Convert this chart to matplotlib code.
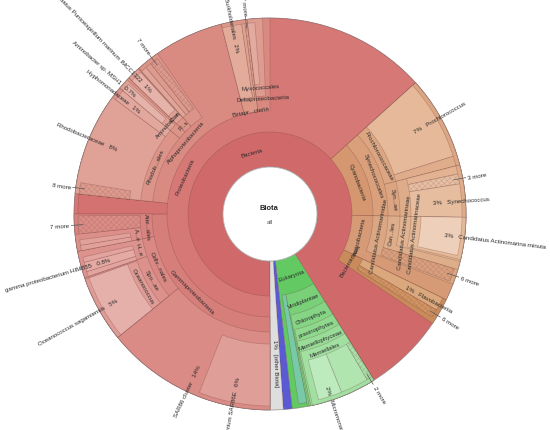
import math
import matplotlib
matplotlib.use("Agg")
import matplotlib.pyplot as plt
from matplotlib.patches import Wedge, Circle

# taxonomy of the sample, values are percent of all of Biota
node_names = [
    "Bacteria", "Eukaryota", "Viruses", "[other Biota]",
    "Proteobacteria", "Cyanobacteria", "Actinobacteria", "Bacteroidetes",
    "Gammaproteobacteria", "other Proteobacteria", "Alphaproteobacteria",
    "Betaproteobacteria", "Deltaproteobacteria",
    "SAR86 cluster", "Cellvibrionales", "Alteromonadales",
    "SAR86 cluster bacterium SAR86E",
    "Spongiibacteraceae", "Halieaceae",
    "Oceanococcus", "Oceanococcus sagamiensis",
    "Halieaceae sp. a", "gamma proteobacterium HIMB55", "Halieaceae sp. b",
    "Alteromonadaceae", "Alteromonadales more",
    "Alteromonadaceae sp. a", "Alteromonadaceae sp. b",
    "Rhodobacterales", "Rhizobiales", "Alpha order P", "Alpha other",
    "Rhodobacteraceae", "Hyphomonadaceae", "Rhodobacteraceae more",
    "Aminobacter", "Aminobacter sp. MSH1",
    "Candidatus Puniceispirillum", "Candidatus Puniceispirillum marinum IMCC1322",
    "Alpha sp. a", "Alpha sp. b", "Alpha more",
    "Burkholderiales", "Beta sp. a", "Beta more",
    "Myxococcales", "Myxococcales sp. a",
    "Synechococcales", "Prochlorococcaceae", "Synechococcaceae",
    "Prochlorococcus", "Prochlorococcaceae sp. a",
    "Synechococcus", "Synechococcus sp. a", "Synechococcus more", "Synechococcus sp.",
    "Candidatus Actinomarinidae", "Candidatus Actinomarinales", "Actinomarinidae more",
    "Candidatus Actinomarineae", "Candidatus Actinomarinaceae",
    "Candidatus Actinomarina minuta",
    "Flavobacteriia", "Bacteroidetes more",
    "Viridiplantae", "Eukaryota other",
    "Chlorophyta", "prasinophytes", "Mamiellophyceae", "Mamiellales",
    "Mamiellales more", "Mamiellales sp. a", "Micromonas",
]
node_parents = [
    "Biota", "Biota", "Biota", "Biota",
    "Bacteria", "Bacteria", "Bacteria", "Bacteria",
    "Proteobacteria", "Proteobacteria", "Proteobacteria",
    "Proteobacteria", "Proteobacteria",
    "Gammaproteobacteria", "Gammaproteobacteria", "Gammaproteobacteria",
    "SAR86 cluster",
    "Cellvibrionales", "Cellvibrionales",
    "Spongiibacteraceae", "Oceanococcus",
    "Halieaceae", "Halieaceae", "Halieaceae",
    "Alteromonadales", "Alteromonadales",
    "Alteromonadaceae", "Alteromonadaceae",
    "Alphaproteobacteria", "Alphaproteobacteria", "Alphaproteobacteria", "Alphaproteobacteria",
    "Rhodobacterales", "Rhodobacterales", "Rhodobacteraceae",
    "Rhizobiales", "Aminobacter",
    "Alpha order P", "Candidatus Puniceispirillum",
    "Alpha other", "Alpha other", "Alpha other",
    "Betaproteobacteria", "Betaproteobacteria", "Betaproteobacteria",
    "Deltaproteobacteria", "Myxococcales",
    "Cyanobacteria", "Synechococcales", "Synechococcales",
    "Prochlorococcaceae", "Prochlorococcaceae",
    "Synechococcaceae", "Synechococcus", "Synechococcus", "Synechococcus",
    "Actinobacteria", "Candidatus Actinomarinidae", "Candidatus Actinomarinidae",
    "Candidatus Actinomarinales", "Candidatus Actinomarineae",
    "Candidatus Actinomarinaceae",
    "Bacteroidetes", "Bacteroidetes",
    "Eukaryota", "Eukaryota",
    "Viridiplantae", "Chlorophyta", "prasinophytes", "Mamiellophyceae",
    "Mamiellales", "Mamiellales", "Mamiellales",
]
node_values = [
    91.1, 7.1, 0.72, 1.05,
    63.33, 11.94, 6.94, 2.22,
    25.0, 1.67, 19.33, 2.14, 1.86,
    14.17, 7.78, 3.05,
    6.0,
    5.56, 2.22,
    5.42, 5.42,
    0.42, 0.8, 0.44,
    1.39, 1.5,
    0.45, 0.45,
    9.44, 1.11, 1.11, 1.94,
    8.47, 0.97, 0.94,
    0.9, 0.69,
    1.05, 1.0,
    0.5, 0.5, 0.7,
    1.64, 0.28, 0.2,
    1.25, 0.6,
    11.94, 7.64, 4.3,
    6.81, 0.83,
    4.3, 0.69, 0.83, 2.78,
    5.56, 4.31, 1.11,
    3.61, 3.47,
    3.19,
    1.11, 0.69,
    5.83, 0.69,
    5.69, 5.56, 5.56, 5.42,
    0.47, 2.36, 2.0,
]

# collapsed groups drawn hatched, labelled "n more"
more_counts = {
    "Alteromonadales more": 7, "Rhodobacteraceae more": 8, "Alpha more": 7,
    "Beta more": 7, "Synechococcus more": 3, "Actinomarinidae more": 6,
    "Bacteroidetes more": 6, "Mamiellales more": 2,
}

# label text as shown (internal nodes sit in their ring, leaves run outward)
ring_labels = {
    "Bacteria": "Bacteria", "Eukaryota": "Eukaryota",
    "Proteobacteria": "Proteobacteria", "Cyanobacteria": "Cyanobacteria",
    "Actinobacteria": "Actinobacteria", "Bacteroidetes": "Bacteroidetes",
    "Gammaproteobacteria": "Gammaproteobacteria",
    "Alphaproteobacteria": "Alphaproteobacteria",
    "Betaproteobacteria": "Betapr...cteria",
    "Deltaproteobacteria": "Deltaproteobacteria",
    "Cellvibrionales": "Cellv...nales", "Alteromonadales": "Alte...ales",
    "Spongiibacteraceae": "Spo...ae", "Halieaceae": "H...e",
    "Oceanococcus": "Oceanococcus", "Alteromonadaceae": "A...e",
    "Rhodobacterales": "Rhodob...ales", "Aminobacter": "Aminobacter",
    "Alpha order P": "P...s", "Candidatus Puniceispirillum": "C...n",
    "Myxococcales": "Myxococcales",
    "Synechococcales": "Synechococcales", "Prochlorococcaceae": "Prochlorococcaceae",
    "Synechococcaceae": "Syn...ae",
    "Candidatus Actinomarinidae": "Candidatus Actinomarinidae",
    "Candidatus Actinomarinales": "Can...les",
    "Candidatus Actinomarineae": "Candidatus Actinomarineae",
    "Candidatus Actinomarinaceae": "Candidatus Actinomarinaceae",
    "Viridiplantae": "Viridiplantae", "Chlorophyta": "Chlorophyta",
    "prasinophytes": "prasinophytes", "Mamiellophyceae": "Mamiellophyceae",
    "Mamiellales": "Mamiellales",
}
leaf_labels = {
    "[other Biota]": "[other Biota]",
    "SAR86 cluster bacterium SAR86E": "SAR86 cluster bacterium SAR86E",
    "Oceanococcus sagamiensis": "Oceanococcus sagamiensis",
    "gamma proteobacterium HIMB55": "gamma proteobacterium HIMB55",
    "Hyphomonadaceae": "Hyphomonadaceae",
    "Aminobacter sp. MSH1": "Aminobacter sp. MSH1",
    "Candidatus Puniceispirillum marinum IMCC1322": "Candidatus Puniceispirillum marinum IMCC1322",
    "Burkholderiales": "Burkholderiales",
    "Prochlorococcus": "Prochlorococcus",
    "Synechococcus sp.": "Synechococcus",
    "Candidatus Actinomarina minuta": "Candidatus Actinomarina minuta",
    "Flavobacteriia": "Flavobacteriia",
    "Micromonas": "Micromonas",
}
# nodes whose unassigned remainder carries their name and total
rest_labels = {"SAR86 cluster": "SAR86 cluster", "Rhodobacteraceae": "Rhodobacteraceae"}

node_colors = {
    "Bacteria": "#d06a6a", "Eukaryota": "#63c963", "Viruses": "#5a5ad2",
    "[other Biota]": "#dedede",
    "Proteobacteria": "#d57876", "Cyanobacteria": "#d4976f",
    "Actinobacteria": "#d69b76", "Bacteroidetes": "#c98b5b",
    "Gammaproteobacteria": "#d67e7a", "other Proteobacteria": "#d37270",
    "Alphaproteobacteria": "#d98b82", "Betaproteobacteria": "#dc9787",
    "Deltaproteobacteria": "#d98a80",
    "SAR86 cluster": "#da8b86", "Cellvibrionales": "#d98883", "Alteromonadales": "#d8837f",
    "SAR86 cluster bacterium SAR86E": "#e09e98",
    "Spongiibacteraceae": "#dc918c", "Halieaceae": "#dc928d",
    "Oceanococcus": "#df9b95", "Oceanococcus sagamiensis": "#e6b0aa",
    "Halieaceae sp. a": "#e3a39e", "gamma proteobacterium HIMB55": "#e5aaa4",
    "Halieaceae sp. b": "#e3a39e",
    "Alteromonadaceae": "#dc8f8a", "Alteromonadales more": "#da8d87",
    "Alteromonadaceae sp. a": "#e2a09b", "Alteromonadaceae sp. b": "#e2a09b",
    "Rhodobacterales": "#dc9489", "Rhizobiales": "#dc9489", "Alpha order P": "#dc9489",
    "Alpha other": "#dc9489",
    "Rhodobacteraceae": "#e0a196", "Hyphomonadaceae": "#e2a79d",
    "Rhodobacteraceae more": "#dd9b90",
    "Aminobacter": "#dfa095", "Aminobacter sp. MSH1": "#e6b3aa",
    "Candidatus Puniceispirillum": "#dfa095",
    "Candidatus Puniceispirillum marinum IMCC1322": "#e6b3aa",
    "Alpha sp. a": "#e1a499", "Alpha sp. b": "#dd9a8f", "Alpha more": "#dd9a8f",
    "Burkholderiales": "#e3ab99", "Beta sp. a": "#e0a290", "Beta more": "#e0a290",
    "Myxococcales": "#de9b8f", "Myxococcales sp. a": "#e3aa9f",
    "Synechococcales": "#d9a07b", "Prochlorococcaceae": "#dca682",
    "Synechococcaceae": "#dca582",
    "Prochlorococcus": "#e5b99a", "Prochlorococcaceae sp. a": "#e0ad8c",
    "Synechococcus": "#dfac8a", "Synechococcus sp. a": "#e2b292",
    "Synechococcus more": "#e6c0a4", "Synechococcus sp.": "#e6bd9f",
    "Candidatus Actinomarinidae": "#dba683", "Candidatus Actinomarinales": "#dead8a",
    "Actinomarinidae more": "#d9a07e",
    "Candidatus Actinomarineae": "#e1b391", "Candidatus Actinomarinaceae": "#e4b998",
    "Candidatus Actinomarina minuta": "#eecfba",
    "Flavobacteriia": "#dba77c", "Bacteroidetes more": "#cf9462",
    "Viridiplantae": "#79d079", "Eukaryota other": "#78c9a8",
    "Chlorophyta": "#85d585", "prasinophytes": "#8fd98f",
    "Mamiellophyceae": "#98dc98", "Mamiellales": "#a2e0a2",
    "Mamiellales more": "#a9e2a9", "Mamiellales sp. a": "#b0e5b0",
    "Micromonas": "#bdebbd",
}

label_angle = {"SAR86 cluster": 25.0}
label_radius = {
    "[other Biota]": 125, "Candidatus Actinomarina minuta": 175,
    "Oceanococcus sagamiensis": 175, "gamma proteobacterium HIMB55": 166,
    "Aminobacter sp. MSH1": 180, "Candidatus Puniceispirillum marinum IMCC1322": 172,
    "Micromonas": 181, "Flavobacteriia": 154, "Synechococcus sp.": 163,
    "Betaproteobacteria": 105, "Deltaproteobacteria": 116, "Myxococcales": 127,
}

CX, CY = 270, 216
R_OUT = 196
RING = [0, 47, 82, 103, 118, 130, 141, 151, 160]
FONT = "Liberation Sans"
FS = 4.4
TXT = "#2a2a2a"
EDGE = (0.4, 0.22, 0.2, 0.3)

plt.rcParams["hatch.linewidth"] = 0.35

value = dict(zip(node_names, node_values))
children = {}
for n, p in zip(node_names, node_parents):
    children.setdefault(p, []).append(n)

start, span, depth = {"Biota": 0.0}, {"Biota": 360.0}, {"Biota": 0}


def place(p):
    pos = start[p]
    for c in children.get(p, []):
        start[c] = pos
        span[c] = value[c] * 3.6
        depth[c] = depth[p] + 1
        pos += span[c]
        place(c)


place("Biota")


def to_math(tc):
    # clockwise degrees from the bottom -> matplotlib angle
    return 270.0 - tc


def pol(r, ang):
    a = math.radians(ang)
    return CX + r * math.cos(a), CY + r * math.sin(a)


def pct_text(v):
    return f"{round(v)}%" if v >= 0.95 else f"{v:.1f}%"


def norm(a):
    a = a % 360
    return a - 360 if a > 180 else a


def radial_text(name, pct, ang, r):
    a = norm(ang)
    x, y = pol(r, a)
    if -90 <= a <= 90:
        txt = f"{pct}   {name}" if pct else name
        ax.text(x, y, txt, rotation=a, ha="left", va="center", rotation_mode="anchor",
                fontsize=FS, family=FONT, color=TXT)
    else:
        txt = f"{name}   {pct}" if pct else name
        ax.text(x, y, txt, rotation=a - 180, ha="right", va="center", rotation_mode="anchor",
                fontsize=FS, family=FONT, color=TXT)


def tangent_text(name, ang, r):
    a = norm(ang)
    x, y = pol(r, a)
    rot = a - 90
    if rot < -90:
        rot += 180
    ax.text(x, y, name, rotation=rot, ha="center", va="center", rotation_mode="anchor",
            fontsize=FS, family=FONT, color=TXT)


fig = plt.figure(figsize=(5.5, 4.31), dpi=100)
ax = fig.add_axes([0, 0, 1, 1])
ax.set_xlim(0, 550)
ax.set_ylim(0, 431)
ax.set_aspect("equal")
ax.axis("off")

order = sorted(node_names, key=lambda n: depth[n])
for n in order:
    d = depth[n]
    r_in = RING[d]
    leaf = n not in children
    r_out = R_OUT - 4 if (leaf and d > 1) else R_OUT
    t1 = to_math(start[n] + span[n])
    t2 = to_math(start[n])
    ax.add_patch(Wedge((CX, CY), r_out, t1, t2, width=r_out - r_in,
                       facecolor=node_colors[n], edgecolor=EDGE, lw=0.5))
    if n in more_counts:
        ax.add_patch(Wedge((CX, CY), r_out, t1, t2, width=r_out - r_in, fill=False,
                           hatch="xxxxxx", edgecolor=(0.55, 0.3, 0.25, 0.3), lw=0))

ax.add_patch(Circle((CX, CY), R_OUT, fill=False, edgecolor=(0.55, 0.55, 0.55, 0.5), lw=0.5))
ax.add_patch(Circle((CX, CY), RING[1], facecolor="white", edgecolor="#b0b0b0", lw=0.6))

# labels
for n in node_names:
    d = depth[n]
    mid = to_math(start[n] + span[n] / 2)
    if n in ring_labels:
        tangent_text(ring_labels[n], mid, label_radius.get(n, (RING[d] + RING[d + 1]) / 2))
    elif n in leaf_labels:
        radial_text(leaf_labels[n], pct_text(value[n]), mid, label_radius.get(n, 166))
    elif n in more_counts:
        x0, y0 = pol(R_OUT - 9, mid)
        x1, y1 = pol(R_OUT + 3, mid)
        ax.plot([x0, x1], [y0, y1], color="#555555", lw=0.5)
        radial_text(f"{more_counts[n]} more", "", mid, R_OUT + 5)
    if n in rest_labels:
        used = sum(span[c] for c in children[n])
        tc = label_angle.get(n, start[n] + used + (span[n] - used) / 2)
        radial_text(rest_labels[n], pct_text(value[n]), to_math(tc), 166)

ax.text(CX - 1, CY + 7, "Biota", ha="center", va="center", fontsize=5.4,
        family=FONT, weight="bold", color="#222222")
ax.text(CX, CY - 7, "all", ha="center", va="center", fontsize=4.6,
        family=FONT, color="#555555")

fig.savefig("out.png", dpi=100)
